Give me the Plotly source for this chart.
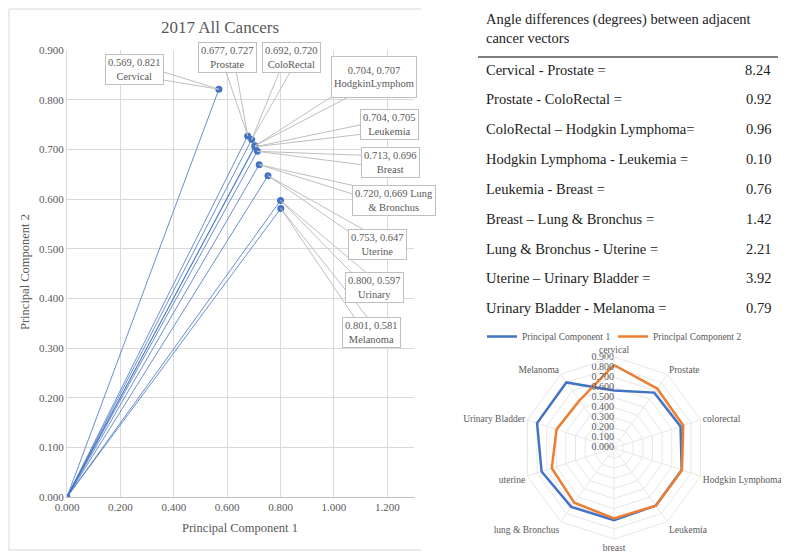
import math
import plotly.graph_objects as go

# ---------------- data ----------------
cancers = ["Cervical", "Prostate", "ColoRectal", "HodgkinLymphom", "Leukemia",
           "Breast", "Lung<br>&amp; Bronchus", "Uterine", "Urinary", "Melanoma"]
pc1 = [0.569, 0.677, 0.692, 0.704, 0.704, 0.713, 0.720, 0.753, 0.800, 0.801]
pc2 = [0.821, 0.727, 0.720, 0.707, 0.705, 0.696, 0.669, 0.647, 0.597, 0.581]

radar_cats = ["cervical", "Prostate", "colorectal", "Hodgkin Lymphoma", "Leukemia",
              "breast", "lung & Bronchus", "uterine", "Urinary Bladder", "Melanoma"]
radar_ticks = [0.0, 0.1, 0.2, 0.3, 0.4, 0.5, 0.6, 0.7, 0.8, 0.9]

pairs = ["Cervical - Prostate =", "Prostate - ColoRectal =", "ColoRectal \u2013 Hodgkin Lymphoma=",
         "Hodgkin Lymphoma - Leukemia =", "Leukemia - Breast =", "Breast \u2013 Lung &amp; Bronchus =",
         "Lung &amp; Bronchus - Uterine =", "Uterine \u2013 Urinary Bladder =", "Urinary Bladder - Melanoma ="]
angle_diff = ["8.24", "0.92", "0.96", "0.10", "0.76", "1.42", "2.21", "3.92", "0.79"]

# label box layout (pixels, from the point to the box centre)
lab_dx = [-84, -20, 40, 119, 135, 133, 135, 110, 94, 91]
lab_dy = [-20, -78, -82, -69, -22, 11, 36, 69, 87, 124]
lab_sep = ["<br>"] * 6 + [" "] + ["<br>"] * 3
lab_h = [None, None, None, 36, None, None, None, None, None, None]

W, H = 789, 552
OFF = 8  # page body margin
FONT = "Liberation Serif"
GRAY = "#595959"
BLUE = "#4472C4"
ORANGE = "#ED7D31"

def px(x):
    return (x - OFF) / W

def py(y):
    return 1 - (y - OFF) / H

# scatter plot area in page pixels
X0, X1, Y0, Y1 = 67, 414, 50, 497
XR = [0, 1.3]
YR = [0, 0.9]
sx = (XR[1] - XR[0]) / (X1 - X0)
sy = (YR[1] - YR[0]) / (Y1 - Y0)

fig = go.Figure()

# vectors from origin
vx, vy = [], []
for a, b in zip(pc1, pc2):
    vx += [0, a, None]
    vy += [0, b, None]
fig.add_trace(go.Scatter(x=vx, y=vy, mode="lines", line=dict(color=BLUE, width=0.8),
                         showlegend=False, hoverinfo="skip", xaxis="x", yaxis="y"))
fig.add_trace(go.Scatter(x=[0] + pc1, y=[0] + pc2, mode="markers",
                         marker=dict(color=BLUE, size=7), showlegend=False,
                         xaxis="x", yaxis="y"))

annotations = []
shapes = []
for name, a, b, dx, dy, sep, hh in zip(cancers, pc1, pc2, lab_dx, lab_dy, lab_sep, lab_h):
    ann = dict(
        x=a, y=b, xref="x", yref="y", xshift=dx, yshift=-dy,
        xanchor="center", yanchor="middle",
        text=f"{a:.3f}, {b:.3f}{sep}{name}", showarrow=False,
        bordercolor="#bfbfbf", borderwidth=1, borderpad=2, bgcolor="white",
        font=dict(family=FONT, size=10.5, color=GRAY))
    if hh:
        ann["height"] = hh
    annotations.append(ann)
    # wedge-shaped callout leader (hidden inside the box by its white fill)
    L = math.hypot(dx, dy)
    ux, uy = -dy / L, dx / L
    w = 6
    p1 = (a + (dx + w * ux) * sx, b - (dy + w * uy) * sy)
    p2 = (a + (dx - w * ux) * sx, b - (dy - w * uy) * sy)
    shapes.append(dict(type="path", xref="x", yref="y", layer="above",
                       path=f"M {p1[0]} {p1[1]} L {a} {b} L {p2[0]} {p2[1]}",
                       line=dict(color="#bfbfbf", width=1)))

# radar
fig.add_trace(go.Scatterpolar(r=pc1 + [pc1[0]], theta=radar_cats + [radar_cats[0]],
                              mode="lines", line=dict(color=BLUE, width=2.5),
                              name="Principal Component 1", subplot="polar"))
fig.add_trace(go.Scatterpolar(r=pc2 + [pc2[0]], theta=radar_cats + [radar_cats[0]],
                              mode="lines", line=dict(color=ORANGE, width=2.5),
                              name="Principal Component 2", subplot="polar"))
fig.add_trace(go.Scatterpolar(r=[max(t, 1e-4) for t in radar_ticks],
                              theta=[radar_cats[0]] * len(radar_ticks),
                              mode="text", text=[f"{t:.3f}" for t in radar_ticks],
                              textposition="middle left", cliponaxis=False,
                              textfont=dict(family=FONT, size=10, color=GRAY),
                              showlegend=False, hoverinfo="skip", subplot="polar"))

# table text
annotations.append(dict(x=px(484), y=py(28), xref="paper", yref="paper", xanchor="left", yanchor="middle",
                        text="Angle differences (degrees) between adjacent<br>cancer vectors",
                        align="left", showarrow=False, font=dict(family=FONT, size=14.5, color="#222222")))
row_y = [70, 99, 129, 159, 189, 219, 249, 278, 308]
for t, v, yy in zip(pairs, angle_diff, row_y):
    annotations.append(dict(x=px(484), y=py(yy), xref="paper", yref="paper", xanchor="left", yanchor="middle",
                            text=t, showarrow=False, font=dict(family=FONT, size=14.5, color="#222222")))
    annotations.append(dict(x=px(773), y=py(yy), xref="paper", yref="paper", xanchor="right", yanchor="middle",
                            text=v, showarrow=False, font=dict(family=FONT, size=14.5, color="#222222")))

# titles
annotations.append(dict(x=px(220), y=py(27), xref="paper", yref="paper", text="2017 All Cancers",
                        xanchor="center", yanchor="middle",
                        showarrow=False, font=dict(family=FONT, size=17, color=GRAY)))
annotations.append(dict(x=px(240), y=py(528), xref="paper", yref="paper", text="Principal Component 1",
                        xanchor="center", yanchor="middle",
                        showarrow=False, font=dict(family=FONT, size=12.5, color=GRAY)))
annotations.append(dict(x=px(25), y=py(272), xref="paper", yref="paper", text="Principal Component 2",
                        xanchor="center", yanchor="middle",
                        textangle=-90, showarrow=False, font=dict(family=FONT, size=12.5, color=GRAY)))

shapes += [
    dict(type="line", xref="paper", yref="paper", x0=px(478), x1=px(778), y0=py(57), y1=py(57),
         line=dict(color="#555555", width=1.5)),
    dict(type="line", xref="paper", yref="paper", x0=px(9), x1=px(9), y0=py(9), y1=py(550),
         line=dict(color="#d9d9d9", width=1)),
    dict(type="line", xref="paper", yref="paper", x0=px(9), x1=px(421), y0=py(9), y1=py(9),
         line=dict(color="#d9d9d9", width=1)),
    dict(type="line", xref="paper", yref="paper", x0=px(9), x1=px(421), y0=py(550), y1=py(550),
         line=dict(color="#d9d9d9", width=1)),
]

fig.update_layout(
    width=W, height=H, margin=dict(l=0, r=0, t=0, b=0, autoexpand=False),
    paper_bgcolor="white", plot_bgcolor="white",
    font=dict(family=FONT, color=GRAY),
    xaxis=dict(domain=[px(X0), px(X1)], range=XR, dtick=0.2, tick0=0, tickformat=".3f",
               showgrid=True, gridcolor="#d9d9d9", zeroline=False, showline=True, linecolor="#bfbfbf",
               tickfont=dict(size=11, color=GRAY), ticks="", anchor="y", automargin=False),
    yaxis=dict(domain=[py(Y1), py(Y0)], range=YR, dtick=0.1, tick0=0, tickformat=".3f",
               showgrid=True, gridcolor="#d9d9d9", zeroline=False, showline=True, linecolor="#d9d9d9",
               tickfont=dict(size=11, color=GRAY), ticks="", anchor="x", automargin=False),
    polar=dict(
        domain=dict(x=[px(523), px(705)], y=[py(539), py(357)]),
        bgcolor="white", gridshape="linear",
        radialaxis=dict(range=[0, 0.9], dtick=0.1, tick0=0, angle=90, showticklabels=False,
                        showline=False, gridcolor="#e8e8e8", ticks=""),
        angularaxis=dict(rotation=90, direction="clockwise", gridcolor="#e8e8e8", linecolor="#e8e8e8",
                         tickfont=dict(size=9.5, color=GRAY), ticks=""),
    ),
    legend=dict(orientation="h", x=px(482), y=py(322), xanchor="left", yanchor="top",
                font=dict(size=9.5, color=GRAY), bgcolor="rgba(0,0,0,0)", entrywidth=86,
                tracegroupgap=0),
    annotations=annotations, shapes=shapes,
)

fig.write_html("out.html")
